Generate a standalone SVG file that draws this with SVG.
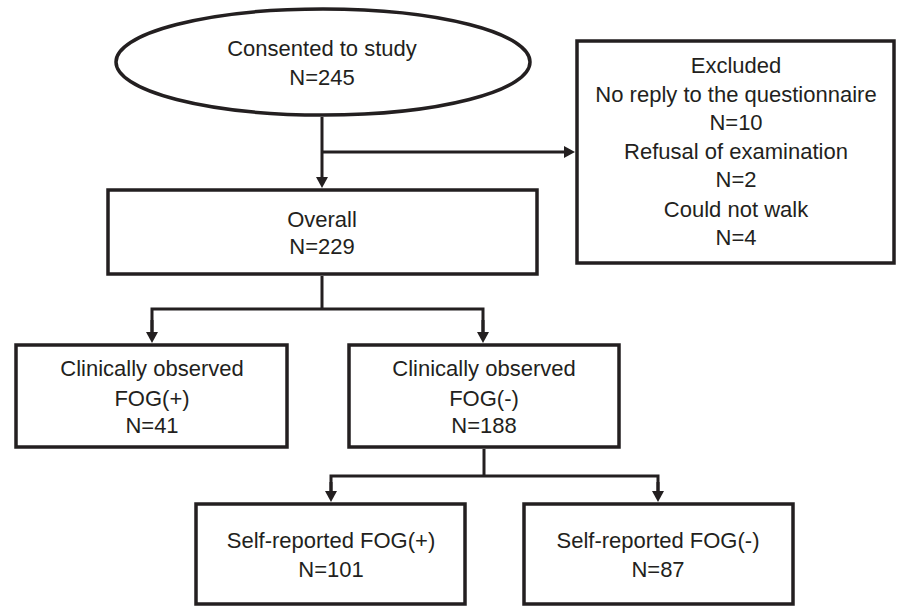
<svg xmlns="http://www.w3.org/2000/svg" width="898" height="608" viewBox="0 0 898 608">
  <defs>
    <marker id="arr" markerUnits="userSpaceOnUse" markerWidth="12" markerHeight="12" refX="0" refY="6" orient="auto">
      <path d="M0,0 L11,6 L0,12 z" fill="#231f20"/>
    </marker>
    <style>
      .box { fill: #ffffff; stroke: #231f20; stroke-width: 3.5; }
      .lbl { font-family: "Liberation Sans", Arial, sans-serif; font-size: 22px; fill: #231f20; text-anchor: middle; }
      .con { fill: none; stroke: #231f20; stroke-width: 3; }
    </style>
  </defs>
  <rect width="898" height="608" fill="#ffffff"/>

  <g id="connectors">
    <line class="con" x1="322" y1="117" x2="322" y2="177" marker-end="url(#arr)"/>
    <line class="con" x1="322" y1="152" x2="564" y2="152" marker-end="url(#arr)"/>
    <line class="con" x1="322" y1="276" x2="322" y2="309"/>
    <polyline class="con" points="152,332 152,309 483,309 483,332"/>
    <line class="con" x1="152" y1="320" x2="152" y2="332" marker-end="url(#arr)"/>
    <line class="con" x1="483" y1="320" x2="483" y2="332" marker-end="url(#arr)"/>
    <line class="con" x1="484" y1="449" x2="484" y2="476"/>
    <polyline class="con" points="331,491 331,476 658,476 658,491"/>
    <line class="con" x1="331" y1="482" x2="331" y2="491" marker-end="url(#arr)"/>
    <line class="con" x1="658" y1="482" x2="658" y2="491" marker-end="url(#arr)"/>
  </g>

  <g id="consented">
    <ellipse class="box" cx="323" cy="62" rx="207" ry="53"/>
    <text class="lbl" x="322" y="56">Consented to study</text>
    <text class="lbl" x="322" y="85">N=245</text>
  </g>

  <g id="excluded">
    <rect class="box" x="577" y="41" width="317" height="222"/>
    <text class="lbl" x="736" y="73">Excluded</text>
    <text class="lbl" x="736" y="102">No reply to the questionnaire</text>
    <text class="lbl" x="736" y="130">N=10</text>
    <text class="lbl" x="736" y="159">Refusal of examination</text>
    <text class="lbl" x="736" y="187">N=2</text>
    <text class="lbl" x="736" y="217">Could not walk</text>
    <text class="lbl" x="736" y="245">N=4</text>
  </g>

  <g id="overall">
    <rect class="box" x="108" y="190" width="429" height="84"/>
    <text class="lbl" x="322" y="227">Overall</text>
    <text class="lbl" x="322" y="254">N=229</text>
  </g>

  <g id="clin-pos">
    <rect class="box" x="16" y="345" width="271" height="102"/>
    <text class="lbl" x="152" y="376">Clinically observed</text>
    <text class="lbl" x="152" y="406">FOG(+)</text>
    <text class="lbl" x="152" y="433">N=41</text>
  </g>

  <g id="clin-neg">
    <rect class="box" x="349" y="345" width="270" height="102"/>
    <text class="lbl" x="484" y="376">Clinically observed</text>
    <text class="lbl" x="484" y="406">FOG(-)</text>
    <text class="lbl" x="484" y="433">N=188</text>
  </g>

  <g id="self-pos">
    <rect class="box" x="196" y="504" width="269" height="100"/>
    <text class="lbl" x="331" y="548">Self-reported FOG(+)</text>
    <text class="lbl" x="331" y="577">N=101</text>
  </g>

  <g id="self-neg">
    <rect class="box" x="524" y="504" width="269" height="100"/>
    <text class="lbl" x="658" y="548">Self-reported FOG(-)</text>
    <text class="lbl" x="658" y="577">N=87</text>
  </g>
</svg>
